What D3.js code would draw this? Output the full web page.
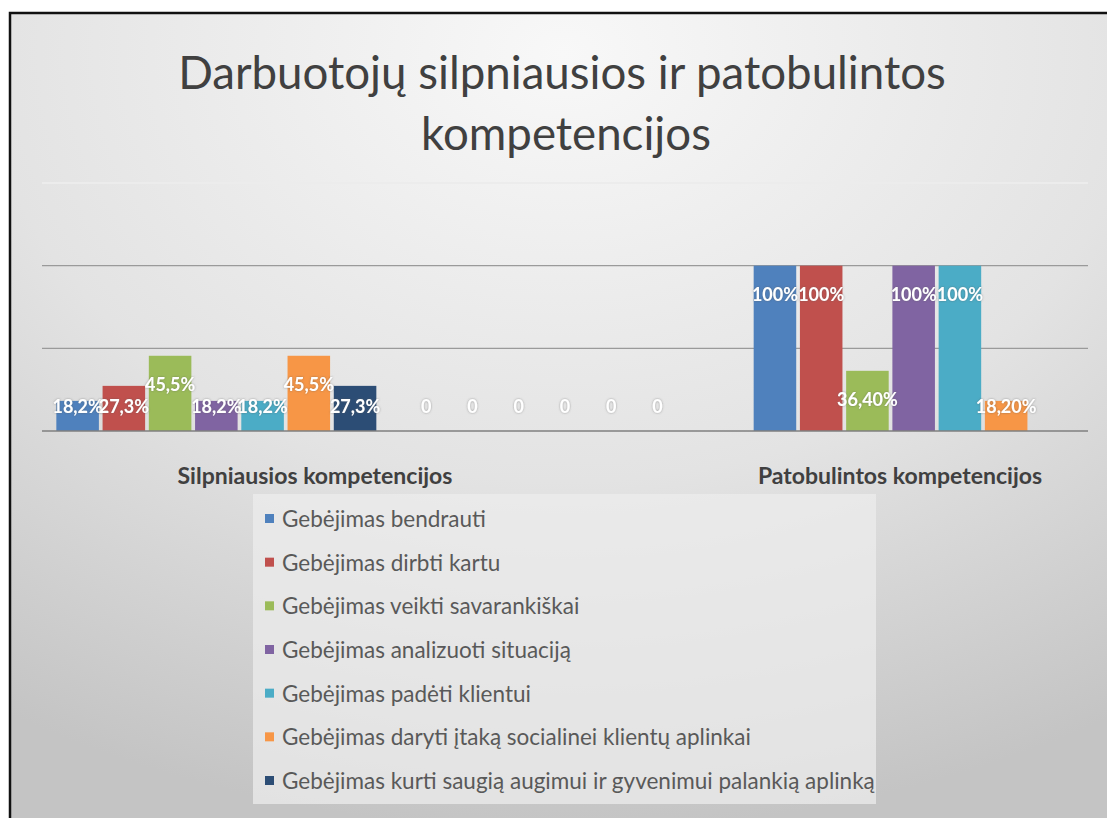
<!DOCTYPE html>
<html>
<head>
  <meta charset="UTF-8">
  <style>
    body { margin: 0; background: #fff; }
    svg { display: block; font-family: Lato, "Open Sans", sans-serif; }
  </style>
</head>
<body>
<svg></svg>
<script src="https://d3js.org/d3.v7.min.js"></script>

<script>

let width = 1107, height = 818;

// chart data
const categories = ["Silpniausios kompetencijos", "", "Patobulintos kompetencijos"];
const seriesNames = [
  "Gebėjimas bendrauti",
  "Gebėjimas dirbti kartu",
  "Gebėjimas veikti savarankiškai",
  "Gebėjimas analizuoti situaciją",
  "Gebėjimas padėti klientui",
  "Gebėjimas daryti įtaką socialinei klientų aplinkai",
  "Gebėjimas kurti saugią augimui ir gyvenimui palankią aplinką"
];
// one row per series, one value per category (null = no bar)
const values = [
  [0.182, 0, 1.00],
  [0.273, 0, 1.00],
  [0.455, 0, 0.364],
  [0.182, 0, 1.00],
  [0.182, 0, 1.00],
  [0.455, 0, 0.182],
  [0.273, null, null]
];
const valueLabels = [
  ["18,2%", "0", "100%"],
  ["27,3%", "0", "100%"],
  ["45,5%", "0", "36,40%"],
  ["18,2%", "0", "100%"],
  ["18,2%", "0", "100%"],
  ["45,5%", "0", "18,20%"],
  ["27,3%", null, null]
];
const axisLabels = ["Silpniausios kompetencijos", "Patobulintos kompetencijos"];
const gridTicks = [0.5, 1, 1.5];
const titleLines = ["Darbuotojų silpniausios ir patobulintos", "kompetencijos"];

const colors = ["#4F81BD", "#C0504D", "#9BBB59", "#8064A2", "#4BACC6", "#F79646", "#2C4D75"];

let svg = d3.select("svg")
    .attr("width", width)
    .attr("height", height)
    .attr("viewBox", "0 0 " + width + " " + height);

// slide background
let defs = svg.append("defs");
let grad = defs.append("radialGradient")
    .attr("id", "slidebg")
    .attr("cx", "50%").attr("cy", "5%").attr("r", "95%");
grad.append("stop").attr("offset", "0%").attr("stop-color", "#f8f8f8");
grad.append("stop").attr("offset", "55%").attr("stop-color", "#e3e3e3");
grad.append("stop").attr("offset", "100%").attr("stop-color", "#c4c4c4");

let shadow = defs.append("filter").attr("id", "lblshadow")
    .attr("x", "-20%").attr("y", "-40%").attr("width", "140%").attr("height", "180%");
shadow.append("feDropShadow")
    .attr("dx", 0).attr("dy", 0).attr("stdDeviation", 1.2)
    .attr("flood-color", "#555").attr("flood-opacity", 0.55);

svg.append("rect")
    .attr("x", 10).attr("y", 13)
    .attr("width", width).attr("height", height)
    .attr("fill", "url(#slidebg)")
    .attr("stroke", "#111")
    .attr("stroke-width", 2.5);

// helper: scale font so a text fits a given width
function fitText(sel, target) {
    let w = sel.node().getComputedTextLength();
    let fs = parseFloat(sel.attr("font-size"));
    sel.attr("font-size", fs * target / w);
    return fs * target / w;
}

// title
let title = svg.append("g").attr("fill", "#404040");
let t1 = title.append("text")
    .attr("x", 562).attr("y", 89)
    .attr("text-anchor", "middle")
    .attr("font-size", 44)
    .text(titleLines[0]);
let titleSize = fitText(t1, 768);
title.append("text")
    .attr("x", 566).attr("y", 150)
    .attr("text-anchor", "middle")
    .attr("font-size", titleSize)
    .text(titleLines[1]);

// scales
let y = d3.scaleLinear().domain([0, 1.5]).range([431, 183]);

let x0 = d3.scaleBand()
    .domain(d3.range(categories.length))
    .range([42, 1088]);

let x1 = d3.scaleBand()
    .domain(d3.range(seriesNames.length))
    .range([0, x0.bandwidth()])
    .paddingInner(0.08)
    .paddingOuter(0.31);

// gridlines
svg.append("g")
    .selectAll("line")
    .data(gridTicks)
    .join("line")
    .attr("x1", 42).attr("x2", 1088)
    .attr("y1", d => y(d)).attr("y2", d => y(d))
    .attr("stroke", d => d === 1.5 ? "#ececec" : "#9a9a9a")
    .attr("stroke-width", d => d === 1.5 ? 2 : 1.3);

// bars
let cells = [];
values.forEach((row, s) => row.forEach((v, c) => {
    cells.push({ s: s, c: c, v: v, label: valueLabels[s][c] });
}));

svg.append("g")
    .selectAll("rect")
    .data(cells.filter(d => d.v !== null && d.v > 0))
    .join("rect")
    .attr("x", d => x0(d.c) + x1(d.s))
    .attr("y", d => y(d.v))
    .attr("width", x1.bandwidth())
    .attr("height", d => y(0) - y(d.v))
    .attr("fill", d => colors[d.s]);

// baseline
svg.append("line")
    .attr("x1", 42).attr("x2", 1088)
    .attr("y1", y(0)).attr("y2", y(0))
    .attr("stroke", "#7f7f7f")
    .attr("stroke-width", 1.5);

// value labels
svg.append("g")
    .selectAll("text")
    .data(cells.filter(d => d.label !== null))
    .join("text")
    .attr("x", d => x0(d.c) + x1(d.s) + x1.bandwidth() / 2)
    .attr("y", d => Math.min(y(d.v) + 29, y(0) - 24))
    .attr("dy", "0.35em")
    .attr("text-anchor", "middle")
    .attr("font-size", 18)
    .attr("font-weight", "bold")
    .attr("fill", "#fff")
    .attr("filter", "url(#lblshadow)")
    .text(d => d.label);

// category labels
let xl = d3.scalePoint().domain(axisLabels).range([315, 900]);
let catG = svg.append("g").attr("fill", "#404040").attr("font-weight", "bold");
let c1 = catG.append("text")
    .attr("x", xl(axisLabels[0])).attr("y", 484)
    .attr("text-anchor", "middle")
    .attr("font-size", 17)
    .text(axisLabels[0]);
let catSize = fitText(c1, 275);
catG.append("text")
    .attr("x", xl(axisLabels[1])).attr("y", 484)
    .attr("text-anchor", "middle")
    .attr("font-size", catSize)
    .text(axisLabels[1]);

// legend
let ly = d3.scalePoint().domain(d3.range(seriesNames.length)).range([519, 781]);
let legend = svg.append("g");
legend.append("rect")
    .attr("x", 253).attr("y", 494)
    .attr("width", 623).attr("height", 310)
    .attr("fill", "#ececec")
    .attr("opacity", 0.75);

let items = legend.selectAll("g.item")
    .data(seriesNames)
    .join("g")
    .attr("class", "item")
    .attr("transform", (d, i) => "translate(265," + ly(i) + ")");

items.append("rect")
    .attr("x", 0).attr("y", -5)
    .attr("width", 9).attr("height", 9)
    .attr("fill", (d, i) => colors[i]);

let ltexts = items.append("text")
    .attr("x", 17)
    .attr("dy", "0.35em")
    .attr("font-size", 18)
    .attr("fill", "#595959")
    .text(d => d);

let longest = ltexts.filter((d, i) => i === seriesNames.length - 1);
let legSize = fitText(longest, 593);
ltexts.attr("font-size", legSize);

</script>

</body>
</html>
